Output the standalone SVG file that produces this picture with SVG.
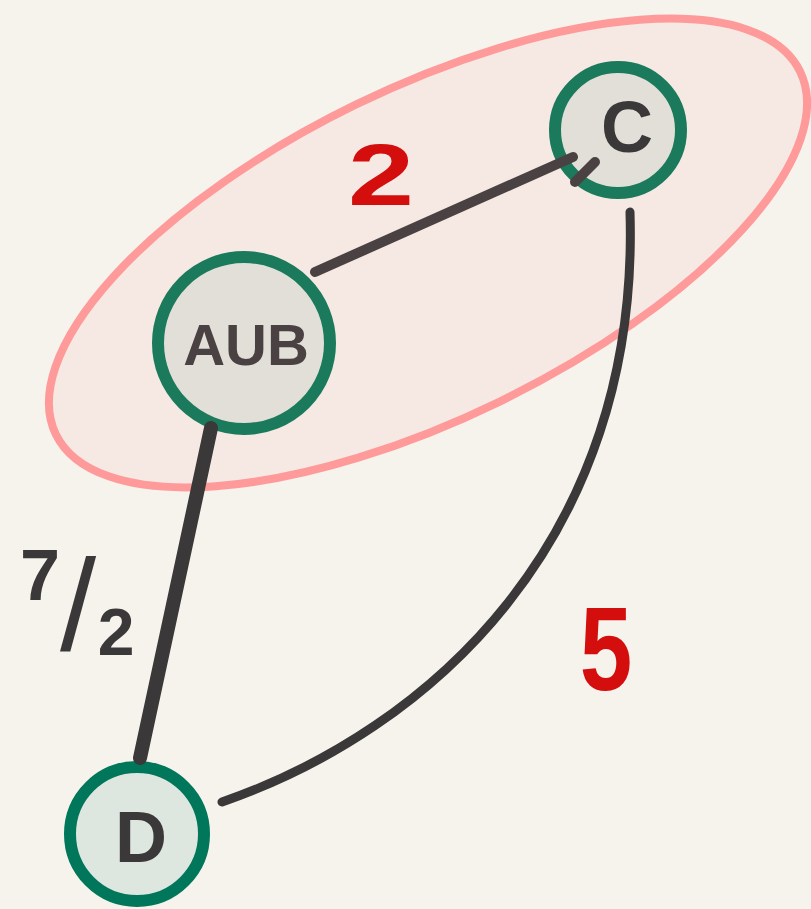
<svg xmlns="http://www.w3.org/2000/svg" width="811" height="909" viewBox="0 0 811 909">
  <style>
    .ring { stroke-width: 12; }
    .lbl { font-family: "Liberation Sans", Arial, sans-serif; font-weight: bold; text-anchor: middle; }
    .edge { fill: none; stroke-linecap: round; stroke-linejoin: round; }
    .red { fill: #d40d0d; }
  </style>
  <rect width="811" height="909" fill="#f6f3ec"/>
  <g id="group-ellipse">
    <ellipse cx="428" cy="253" rx="414" ry="165" transform="rotate(-26 428 253)" fill="#f6e9e3" stroke="#ff9a9a" stroke-width="8"/>
  </g>
  <g id="node-AUB">
    <circle cx="244" cy="343" r="86" fill="#e2dfd9" stroke="#1b7a5c" class="ring"/>
    <text class="lbl" x="246" y="365" font-size="58" fill="#4a4242">AUB</text>
  </g>
  <g id="node-C">
    <circle cx="618" cy="130" r="63" fill="#e2dfd9" stroke="#1b7a5c" class="ring"/>
    <text class="lbl" x="627" y="152" font-size="72" fill="#3a3838">C</text>
  </g>
  <g id="node-D">
    <circle cx="137" cy="834" r="67" fill="#dde6df" stroke="#00765a" class="ring"/>
    <text class="lbl" x="141" y="862" font-size="72" fill="#3a3838">D</text>
  </g>
  <g id="connectors">
    <path class="edge" d="M315,272 L573,157" stroke="#4a4242" stroke-width="10"/>
    <path class="edge" d="M575,182 L595,162" stroke="#4a4242" stroke-width="10"/>
    <path class="edge" d="M211,428 L140,758" stroke="#3a3838" stroke-width="14"/>
    <path class="edge" d="M630,212 C640,540 430,730 222,802" stroke="#3a3838" stroke-width="9"/>
  </g>
  <g id="labels">
    <text class="lbl red" x="0" y="0" font-size="88" transform="translate(381 205) scale(1.35 1)">2</text>
    <text class="lbl red" x="0" y="0" font-size="118" transform="translate(606 690) scale(0.8 1)">5</text>
    <text class="lbl" fill="#3a3838"><tspan x="40" y="600" font-size="72">7</tspan><tspan x="78" y="650" font-size="130" font-weight="normal">/</tspan><tspan x="116" y="655" font-size="66">2</tspan></text>
  </g>
</svg>
